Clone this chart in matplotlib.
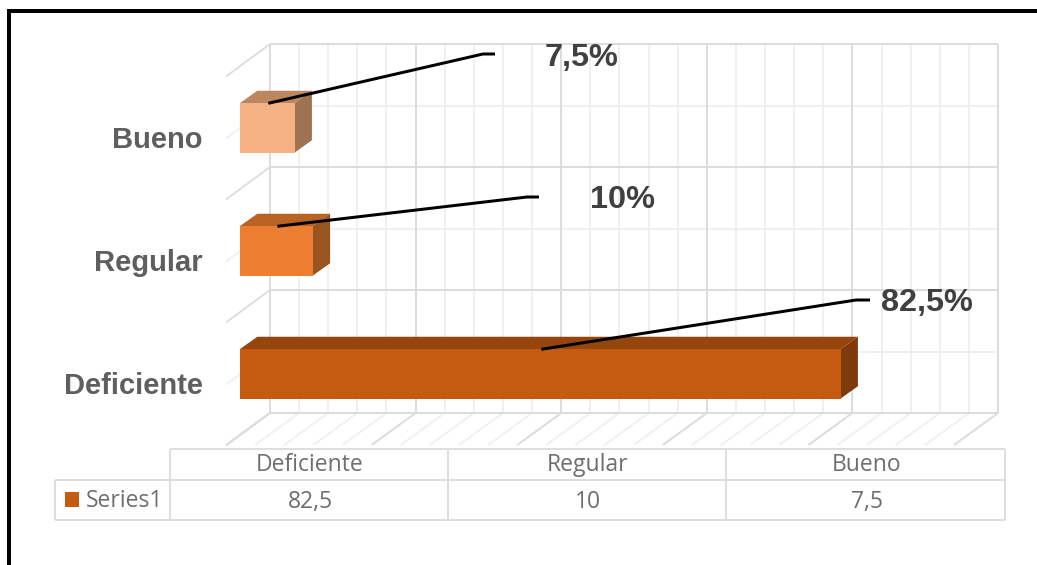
import numpy as np
import matplotlib
matplotlib.use("Agg")
import matplotlib.pyplot as plt
from matplotlib.patches import Polygon, Rectangle
from matplotlib.transforms import Affine2D

categories = ["Deficiente", "Regular", "Bueno"]
values = [82.5, 10, 7.5]
data_labels = ["82,5%", "10%", "7,5%"]
value_labels = ["82,5", "10", "7,5"]
series_name = "Series1"
x_ticks_major = list(range(0, 101, 20))
x_ticks_minor = list(range(0, 101, 4))

front_colors = ["#C55A11", "#ED7D31", "#F4B183"]
top_colors = ["#95460D", "#B86224", "#BC8660"]
side_colors = ["#7F3A0B", "#9A5420", "#9E7352"]

W, H = 1037, 565
fig = plt.figure(figsize=(W / 100, H / 100), dpi=100, facecolor="white")
ax = fig.add_axes([0, 0, 1, 1])
ax.axis("off")

# Data scale: value 0 at pixel x=240, 7.28 px per unit; categories 123 px apart
PX_X, PX_Y, X0, Y0 = 7.28, 123.0, 240.0, 373.8
ax.set_xlim(-X0 / PX_X, (W - X0) / PX_X)
ax.set_ylim((Y0 - H) / PX_Y, Y0 / PX_Y)
pix = Affine2D().scale(1, -1).translate(0, H)  # top-left pixel coordinates

px = 0.72  # one pixel in points
MAJOR, MINOR, TABLE = "#DCDCDC", "#EFEFEF", "#DEDEDE"
BX, BY, BT, FX, FY = 270.0, 44.0, 413.0, 226.0, 445.0
TEXT_FS = 16.5


def line(xs, ys, color, lw, z=1):
    ax.plot(xs, ys, color=color, lw=lw * px, transform=pix, zorder=z,
            solid_capstyle="butt", clip_on=False)


# Frame
ax.add_patch(Rectangle((7, 9), 1030, 4, color="black", transform=pix, zorder=8, lw=0))
ax.add_patch(Rectangle((7, 9), 4, 556, color="black", transform=pix, zorder=8, lw=0))

# Walls and floor
for t in x_ticks_minor:
    x = BX + t * PX_X
    major = t in x_ticks_major
    col, lw = (MAJOR, 2) if major else (MINOR, 1.8)
    line([x, x], [BY, BT], col, lw, 2 if major else 1)
    line([x, x - (BX - FX)], [BT, FY], col, lw, 2 if major else 1)
for y in [44, 167, 290, 413]:
    line([BX, BX + 100 * PX_X], [y, y], MAJOR, 2, 2)
    line([BX, FX], [y, y + 32.5], MAJOR, 1.8, 2)
for y in [106, 229, 352]:
    line([BX, BX + 100 * PX_X], [y, y], MINOR, 1.8, 1)
    line([BX, FX], [y, y + 32.5], MINOR, 1.8, 1)

# Bars with a drawn depth
BAR_H = 49.5 / PX_Y
DX, DY = 17.3 / PX_X, 12.3 / PX_Y
ypos = np.arange(len(categories))
ax.barh(ypos, values, height=BAR_H, color=front_colors, zorder=5, lw=0)
for i, (y, v) in enumerate(zip(ypos, values)):
    t, b = y + BAR_H / 2, y - BAR_H / 2
    ax.add_patch(Polygon([(0, t), (v, t), (v + DX, t + DY), (DX, t + DY)],
                         color=top_colors[i], lw=0, zorder=4))
    ax.add_patch(Polygon([(v, t), (v + DX, t + DY), (v + DX, b + DY), (v, b)],
                         color=side_colors[i], lw=0, zorder=4))
    ax.text(202.5, Y0 - y * PX_Y + 12, categories[i], transform=pix, ha="right",
            va="center", fontsize=21, fontweight="bold", color="#5F5F5F",
            family="Liberation Sans", zorder=7)

# Leader lines: start on the bar's top edge, end beside the data label
elbow = [(856, 300), (527, 197), (483, 54)]
stub = [14, 12, 12]
label_xy = [(927, 303), (623, 200), (581.5, 58)]
for i, (y, v) in enumerate(zip(ypos, values)):
    sx = X0 + v / 2 * PX_X + 1
    sy = Y0 - y * PX_Y - 24.5
    ex, ey = elbow[i]
    ax.plot([sx, ex, ex + stub[i]], [sy, ey, ey], color="black", lw=3 * px,
            transform=pix, zorder=6, solid_joinstyle="round", solid_capstyle="butt")
    ax.text(*label_xy[i], data_labels[i], transform=pix, ha="center", va="center",
            fontsize=23.4, fontweight="bold", color="#404040",
            family="Liberation Sans", zorder=7)

# Data table
TX = [170, 448, 726, 1005]
TY = [449, 480, 520]
for y in TY:
    line([TX[0], TX[-1]], [y, y], TABLE, 2)
for x in TX:
    line([x, x], [TY[0], TY[-1]], TABLE, 2)
line([55, 170], [480, 480], TABLE, 2)
line([55, 170], [520, 520], TABLE, 2)
line([55, 55], [480, 520], TABLE, 2)
for i in range(len(categories)):
    cx = (TX[i] + TX[i + 1]) / 2
    ax.text(cx + 1, 465, categories[i], transform=pix, ha="center", va="center",
            fontsize=TEXT_FS, color="#6E6E6E", family="Open Sans", zorder=7)
    ax.text(cx + 1, 502, value_labels[i], transform=pix, ha="center", va="center",
            fontsize=TEXT_FS, color="#6E6E6E", family="Open Sans", zorder=7)
ax.add_patch(Rectangle((64.5, 492), 14.5, 15, color=front_colors[0], lw=0,
                       transform=pix, zorder=7))
ax.text(86, 501, series_name, transform=pix, ha="left", va="center",
        fontsize=TEXT_FS, color="#6E6E6E", family="Open Sans", zorder=7)

fig.savefig("out.png", dpi=100, facecolor="white")
